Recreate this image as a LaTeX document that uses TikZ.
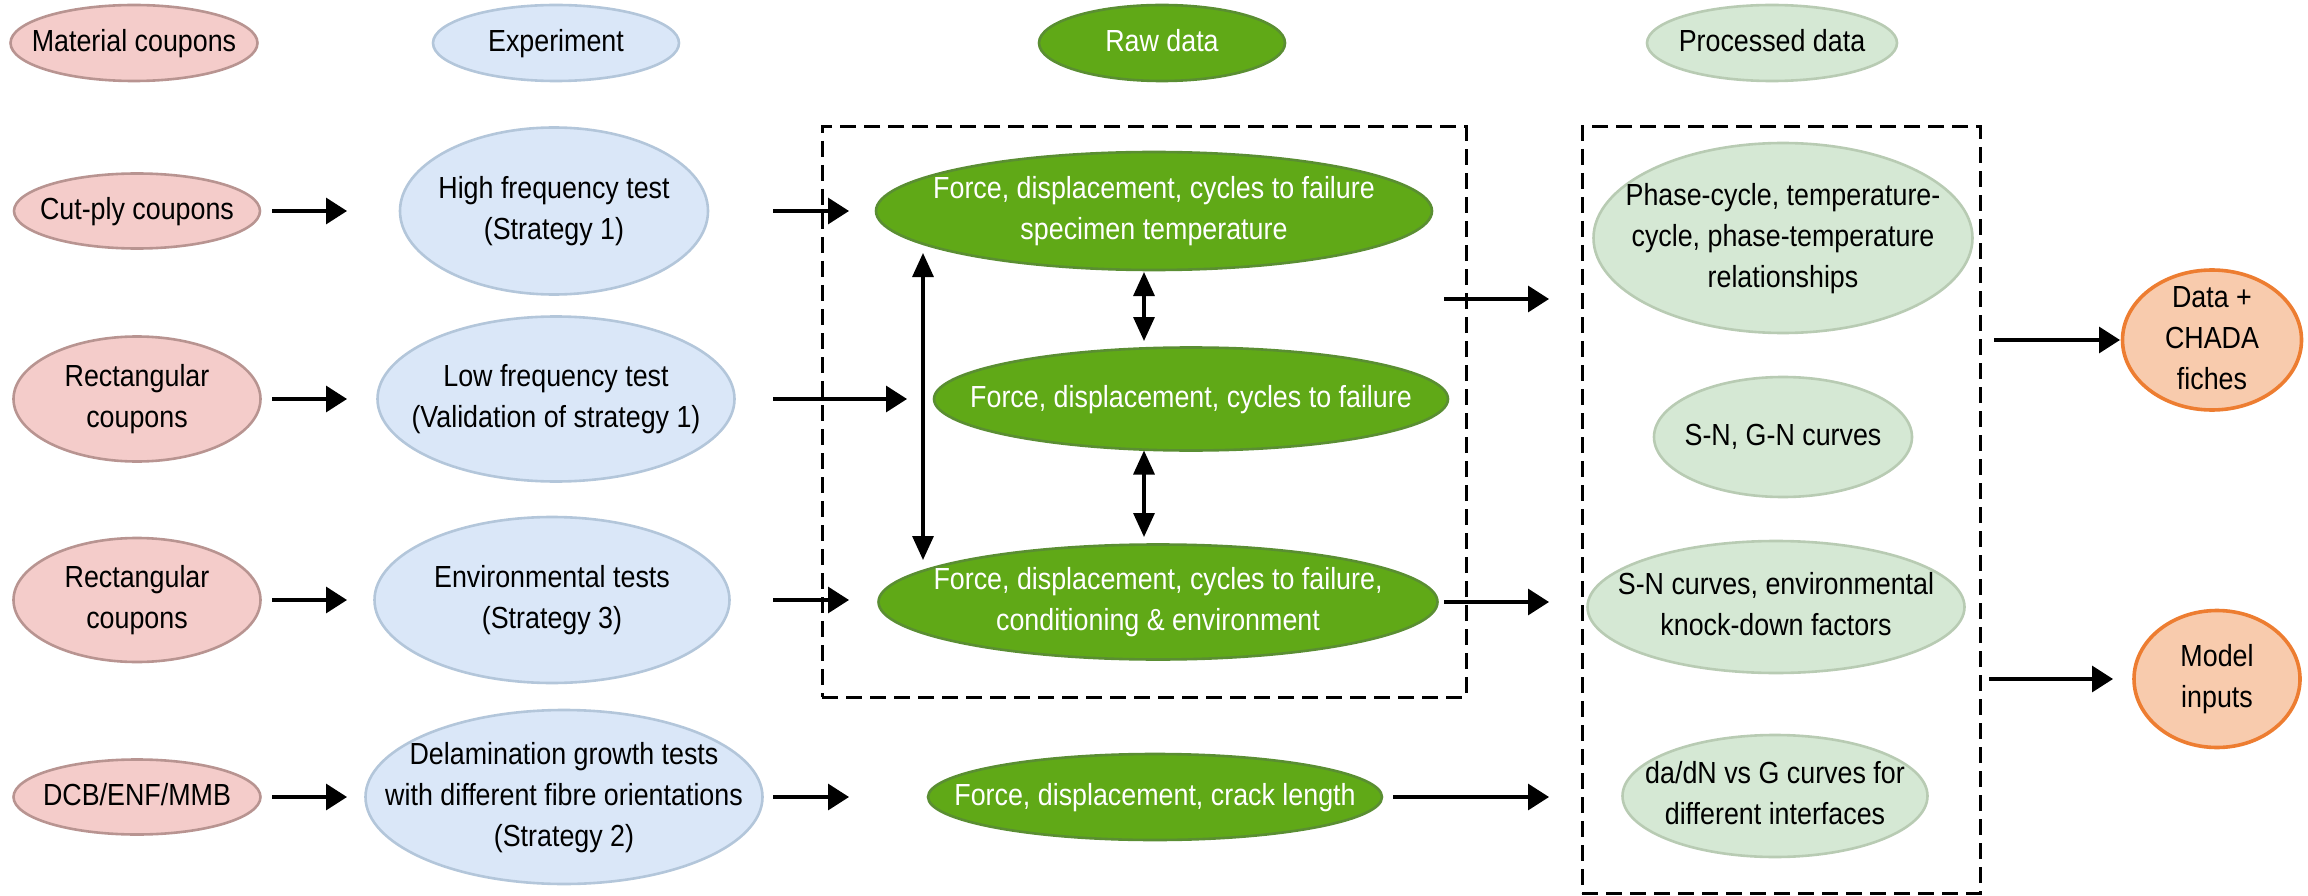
\documentclass[tikz,border=0pt]{standalone}
\usepackage{fontspec}
\setmainfont{Liberation Sans}[FakeStretch=0.88]
\usetikzlibrary{shapes.geometric,arrows.meta}

\definecolor{pinkfill}{HTML}{F4CCCA}
\definecolor{pinkline}{HTML}{B89491}
\definecolor{bluefill}{HTML}{DAE7F8}
\definecolor{blueline}{HTML}{B3C6DA}
\definecolor{greenfill}{HTML}{60A917}
\definecolor{greenline}{HTML}{5A8E32}
\definecolor{lgfill}{HTML}{D5E8D4}
\definecolor{lgline}{HTML}{B8CBB3}
\definecolor{orangefill}{HTML}{F8CBAD}
\definecolor{orangeline}{HTML}{ED7D31}

% centred multi-line label of zero size, so an ellipse keeps its given size
\newsavebox\ebox
\newcommand\etext[1]{\sbox\ebox{\begin{tabular}{@{}c@{}}#1\end{tabular}}%
  \makebox[0pt]{\raisebox{\dimexpr(\dp\ebox-\ht\ebox)/2\relax}[0pt][0pt]{\usebox\ebox}}}

\begin{document}
\begin{tikzpicture}[x=1pt,y=-1pt,
  every node/.style={font=\fontsize{30.5}{41}\selectfont},
  ell/.style={ellipse, inner sep=0pt, outer sep=0pt, line width=2.6pt},
  sz/.style 2 args={minimum width=#1pt, minimum height=#2pt},
  coupon/.style={ell, fill=pinkfill, draw=pinkline},
  expt/.style={ell, fill=bluefill, draw=blueline},
  raw/.style={ell, fill=greenfill, draw=greenline, text=white},
  proc/.style={ell, fill=lgfill, draw=lgline},
  outp/.style={ell, fill=orangefill, draw=orangeline, line width=3.6pt},
  arr/.style={line width=3.3pt, -{Triangle[length=21pt,width=26pt]}},
  darr/.style={line width=3.3pt, {Triangle[length=24pt,width=21pt]}-{Triangle[length=24pt,width=21pt]}},
  group/.style={draw, line width=3pt, dash pattern=on 16pt off 8pt, inner sep=0pt, outer sep=0pt}
]
\useasboundingbox (0,0) rectangle (2308,896);

% dashed groups
\node[group, minimum width=644pt, minimum height=570pt] (rawbox) at (1144,412) {};
\node[group, minimum width=398pt, minimum height=766pt] (procbox) at (1781,510) {};

% column headings
\node[coupon, sz={247}{76}] (matH) at (134,43) {\etext{Material coupons}};
\node[expt, sz={246}{76}] (expH) at (556,43) {\etext{Experiment}};
\node[raw, sz={246}{76}] (rawH) at (1162,43) {\etext{Raw data}};
\node[proc, sz={250}{76}] (procH) at (1772,43) {\etext{Processed data}};

% material coupons
\node[coupon, sz={246}{75}] (cut) at (137,211) {\etext{Cut-ply coupons}};
\node[coupon, sz={247}{125}] (rect1) at (137,399) {\etext{Rectangular\\coupons}};
\node[coupon, sz={247}{124}] (rect2) at (137,600) {\etext{Rectangular\\coupons}};
\node[coupon, sz={247}{75}] (dcb) at (137,797) {\etext{DCB/ENF/MMB}};

% experiments
\node[expt, sz={308}{167}] (hf) at (554,211) {\etext{High frequency test\\(Strategy 1)}};
\node[expt, sz={357}{165}] (lf) at (556,399) {\etext{Low frequency test\\(Validation of strategy 1)}};
\node[expt, sz={355}{166}] (env) at (552,600) {\etext{Environmental tests\\(Strategy 3)}};
\node[expt, sz={397}{174}] (del) at (564,797) {\etext{Delamination growth tests\\with different fibre orientations\\(Strategy 2)}};

% raw data
\node[raw, sz={556}{118}] (r1) at (1154,211) {\etext{Force, displacement, cycles to failure\\specimen temperature}};
\node[raw, sz={514}{103}] (r2) at (1191,399) {\etext{Force, displacement, cycles to failure}};
\node[raw, sz={559}{115}] (r3) at (1158,602) {\etext{Force, displacement, cycles to failure,\\conditioning \& environment}};
\node[raw, sz={454}{86}] (r4) at (1155,797) {\etext{Force, displacement, crack length}};

% processed data
\node[proc, sz={379}{190}] (p1) at (1783,238) {\etext{Phase-cycle, temperature-\\cycle, phase-temperature\\relationships}};
\node[proc, sz={258}{120}] (p2) at (1783,437) {\etext{S-N, G-N curves}};
\node[proc, sz={377}{132}] (p3) at (1776,607) {\etext{S-N curves, environmental\\knock-down factors}};
\node[proc, sz={305}{122}] (p4) at (1775,796) {\etext{da/dN vs G curves for\\different interfaces}};

% outputs
\node[outp, sz={179}{140}] (data) at (2212,340) {\etext{Data +\\CHADA\\fiches}};
\node[outp, sz={166}{137}] (model) at (2217,679) {\etext{Model\\inputs}};

% arrow columns
\coordinate (xa) at (272,0);  \coordinate (xb) at (347,0);
\coordinate (xc) at (773,0);  \coordinate (xd) at (849,0);  \coordinate (xe) at (907,0);
\coordinate (xf) at (1444,0); \coordinate (xg) at (1549,0); \coordinate (xh) at (1393,0);
\coordinate (xi) at (1994,0); \coordinate (xj) at (2120,0);
\coordinate (xk) at (1989,0); \coordinate (xl) at (2113,0);
\coordinate (vx) at (1144,0);
\coordinate (g1) at (1444,299);
\coordinate (la) at (923,253); \coordinate (lb) at (923,560);

% coupons to experiments
\draw[arr] (cut -| xa) -- (cut -| xb);
\draw[arr] (rect1 -| xa) -- (rect1 -| xb);
\draw[arr] (rect2 -| xa) -- (rect2 -| xb);
\draw[arr] (dcb -| xa) -- (dcb -| xb);

% experiments to raw data
\draw[arr] (hf -| xc) -- (hf -| xd);
\draw[arr] (lf -| xc) -- (lf -| xe);
\draw[arr] (env -| xc) -- (env -| xd);
\draw[arr] (del -| xc) -- (del -| xd);

% links inside the raw data group
\draw[darr, shorten <=2pt, shorten >=6.5pt] (r1.south -| vx) -- (r2.north -| vx);
\draw[darr, shorten >=7.5pt] (r2.south -| vx) -- (r3.north -| vx);
\draw[darr] (la) -- (lb);

% raw data to processed data
\draw[arr] (g1) -- (g1 -| xg);
\draw[arr] (r3 -| xf) -- (r3 -| xg);
\draw[arr] (r4 -| xh) -- (r4 -| xg);

% processed data to outputs
\draw[arr] (data -| xi) -- (data -| xj);
\draw[arr] (model -| xk) -- (model -| xl);
\end{tikzpicture}
\end{document}
